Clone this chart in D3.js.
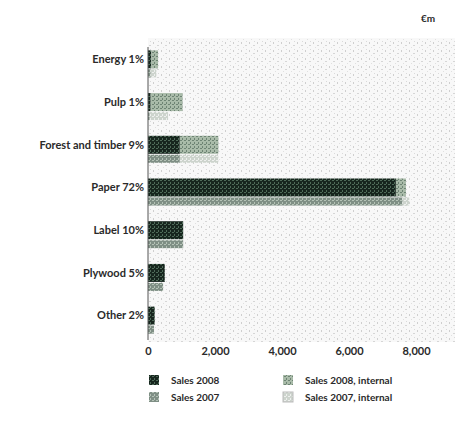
<!DOCTYPE html>
<html>
<head>
<meta charset="utf-8">
<script src="https://cdn.jsdelivr.net/npm/d3@7"></script>
<style>
  body { margin: 0; background: #fff; }
  text { font-family: Lato, "DejaVu Sans", sans-serif; font-weight: bold; fill: #2a2a2a; }
</style>
</head>
<body>
<div id="chart"></div>
<script>
const categories = ['Energy 1%', 'Pulp 1%', 'Forest and timber 9%', 'Paper 72%', 'Label 10%', 'Plywood 5%', 'Other 2%']
const sales2008 = [100, 80, 950, 7400, 1050, 500, 200]
const internal2008 = [200, 950, 1150, 300, 0, 0, 0]
const sales2007 = [80, 50, 950, 7600, 1050, 450, 180]
const internal2007 = [170, 550, 1150, 200, 0, 0, 0]
const xTicks = [0, 2000, 4000, 6000, 8000]
const legendItems = ['Sales 2008', 'Sales 2007', 'Sales 2008, internal', 'Sales 2007, internal']

const width = 465, height = 424
const margin = { top: 41, right: 15, bottom: 84, left: 148 }

const svg = d3.select('#chart')
    .append('svg')
    .attr('width', width)
    .attr('height', height)

// speckled background like the scan
const defs = svg.append('defs')
const speck = defs.append('pattern')
    .attr('id', 'speck')
    .attr('width', 8)
    .attr('height', 8)
    .attr('patternUnits', 'userSpaceOnUse')
speck.append('rect').attr('width', 8).attr('height', 8).attr('fill', '#f8f8f8')
speck.append('rect').attr('x', 1).attr('y', 2).attr('width', 1).attr('height', 2).attr('fill', '#cfcfcf')
speck.append('rect').attr('x', 5).attr('y', 5).attr('width', 2).attr('height', 1).attr('fill', '#d6d6d6')
speck.append('rect').attr('x', 6).attr('y', 1).attr('width', 1).attr('height', 1).attr('fill', '#dadada')
speck.append('rect').attr('x', 3).attr('y', 7).attr('width', 1).attr('height', 1).attr('fill', '#e0e0e0')

const hatch = (id, bg, fg) => {
    const p = defs.append('pattern')
        .attr('id', id)
        .attr('width', 4)
        .attr('height', 4)
        .attr('patternUnits', 'userSpaceOnUse')
    p.append('rect').attr('width', 4).attr('height', 4).attr('fill', bg)
    p.append('rect').attr('x', 0).attr('y', 0).attr('width', 2).attr('height', 1).attr('fill', fg)
    p.append('rect').attr('x', 2).attr('y', 2).attr('width', 1).attr('height', 2).attr('fill', fg)
}
hatch('h08', '#17261e', '#4e6a58')
hatch('h08i', '#a9bba9', '#6e8474')
hatch('h07', '#7f8f85', '#b4c2b6')
hatch('h07i', '#cdd4cd', '#eef0ee')

svg.append('rect')
    .attr('x', margin.left)
    .attr('y', margin.top - 3)
    .attr('width', width - margin.left - margin.right + 5)
    .attr('height', height - margin.top - margin.bottom + 5)
    .attr('fill', 'url(#speck)')

const x = d3.scaleLinear()
    .domain([0, 8000])
    .range([margin.left, 416])

const y = d3.scaleBand()
    .domain(categories)
    .range([margin.top, height - margin.bottom])
    .paddingInner(0)

const bh08 = 18, bh07 = 8
const yc = d => y(d) + y.bandwidth() / 2 - 3

const g = svg.append('g')

categories.forEach((c, i) => {
    const top = yc(c) - bh08 / 2
    // 2008 row
    g.append('rect')
        .attr('x', x(0)).attr('y', top)
        .attr('width', x(sales2008[i]) - x(0)).attr('height', bh08)
        .attr('fill', 'url(#h08)')
    g.append('rect')
        .attr('x', x(sales2008[i])).attr('y', top)
        .attr('width', x(sales2008[i] + internal2008[i]) - x(sales2008[i])).attr('height', bh08)
        .attr('fill', 'url(#h08i)')
    // 2007 row
    g.append('rect')
        .attr('x', x(0)).attr('y', top + bh08 + 1)
        .attr('width', x(sales2007[i]) - x(0)).attr('height', bh07)
        .attr('fill', 'url(#h07)')
    g.append('rect')
        .attr('x', x(sales2007[i])).attr('y', top + bh08 + 1)
        .attr('width', x(sales2007[i] + internal2007[i]) - x(sales2007[i])).attr('height', bh07)
        .attr('fill', 'url(#h07i)')
    // category label
    svg.append('text')
        .attr('x', margin.left - 4)
        .attr('y', yc(c))
        .attr('dy', '0.35em')
        .attr('text-anchor', 'end')
        .style('font-size', '11px')
        .text(c)
})

// y axis line
svg.append('line')
    .attr('x1', x(0)).attr('x2', x(0))
    .attr('y1', margin.top + 6).attr('y2', height - margin.bottom)
    .attr('stroke', '#555')
    .attr('stroke-width', 1)

// x axis tick labels
const xAxis = svg.append('g')
    .attr('transform', `translate(0, ${height - margin.bottom + 4})`)
    .call(d3.axisBottom(x).tickValues(xTicks).tickSize(0).tickFormat(d3.format(',')))
xAxis.select('.domain').remove()
xAxis.selectAll('text')
    .style('font-size', '11px')
    .style('font-family', 'Lato, "DejaVu Sans", sans-serif')
    .attr('fill', '#333')

// unit
svg.append('text')
    .attr('x', 428).attr('y', 22)
    .attr('text-anchor', 'middle')
    .style('font-size', '10px')
    .attr('fill', '#555')
    .text('€m')

// legend
const legendFills = ['url(#h08)', 'url(#h07)', 'url(#h08i)', 'url(#h07i)']
legendItems.forEach((d, i) => {
    const col = Math.floor(i / 2), row = i % 2
    const lx = 149 + col * 134, ly = 375 + row * 17
    svg.append('rect')
        .attr('x', lx).attr('y', ly)
        .attr('width', 10).attr('height', 10)
        .attr('fill', legendFills[i])
        .attr('stroke', i === 3 ? '#bbb' : 'none')
    svg.append('text')
        .attr('x', lx + 22).attr('y', ly + 5)
        .attr('dy', '0.35em')
        .style('font-size', '10px')
        .text(d)
})
</script>
</body>
</html>
